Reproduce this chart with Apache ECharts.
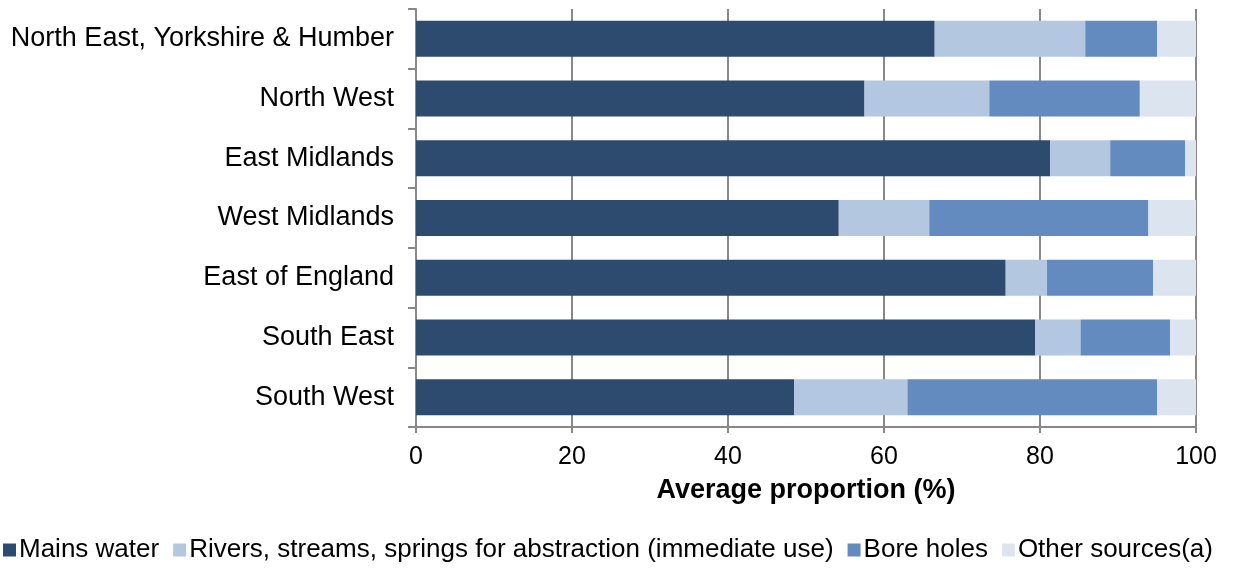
<!DOCTYPE html>
<html>
<head>
<meta charset="utf-8">
<script src="https://cdn.jsdelivr.net/npm/echarts@6/dist/echarts.min.js"></script>
<style>
html,body{margin:0;padding:0;background:#fff;}
#chart{width:1233px;height:568px;}
</style>
</head>
<body>
<div id="chart"></div>
<script>
var categories = ["North East, Yorkshire & Humber", "North West", "East Midlands", "West Midlands", "East of England", "South East", "South West"];
var mainsWater = [66.5, 57.5, 81.3, 54.2, 75.6, 79.4, 48.5];
var rivers = [19.3, 16.0, 7.7, 11.6, 5.3, 5.8, 14.5];
var boreHoles = [9.2, 19.3, 9.6, 28.1, 13.6, 11.5, 32.0];
var otherSources = [5.0, 7.2, 1.4, 6.1, 5.5, 3.3, 5.0];
var seriesNames = ["Mains water", "Rivers, streams, springs for abstraction (immediate use)", "Bore holes", "Other sources(a)"];
var xTicks = [0, 20, 40, 60, 80, 100];

var colors = ["#2D4A6F", "#B3C7E1", "#638BBF", "#DCE4F0"];
var font = "Liberation Sans, Arial, sans-serif";
var dataSets = [mainsWater, rivers, boreHoles, otherSources];

var chart = echarts.init(document.getElementById('chart'), null, {renderer: 'canvas'});
chart.setOption({
  animation: false,
  color: colors,
  grid: {left: 416, right: 37, top: 9, bottom: 141, containLabel: false},
  legend: {
    top: 537, left: 3, padding: 0,
    itemWidth: 13, itemHeight: 13, itemGap: 14,
    icon: 'rect',
    textStyle: {fontFamily: font, fontSize: 26, color: '#000', padding: [0, 0, 0, -2]},
    data: seriesNames
  },
  xAxis: {
    type: 'value', min: xTicks[0], max: xTicks[xTicks.length - 1], interval: 20,
    name: 'Average proportion (%)', nameLocation: 'middle', nameGap: 50,
    nameTextStyle: {fontFamily: font, fontSize: 27, fontWeight: 'bold', color: '#000'},
    axisLine: {show: true, lineStyle: {color: '#888', width: 2}},
    axisTick: {show: true, length: 6, lineStyle: {color: '#888', width: 2}},
    axisLabel: {fontFamily: font, fontSize: 25, color: '#000', margin: 18},
    splitLine: {show: true, lineStyle: {color: '#888', width: 2}}
  },
  yAxis: {
    type: 'category', data: categories, inverse: true,
    axisLine: {show: true, lineStyle: {color: '#888', width: 2}},
    axisTick: {show: true, length: 8, lineStyle: {color: '#888', width: 2}},
    axisLabel: {fontFamily: font, fontSize: 27, color: '#000', margin: 22},
    splitLine: {show: false}
  },
  series: seriesNames.map(function (n, i) {
    return {
      name: n, type: 'bar', stack: 'total', barWidth: 36,
      data: dataSets[i],
      itemStyle: {color: colors[i]}
    };
  })
});
</script>
</body>
</html>
